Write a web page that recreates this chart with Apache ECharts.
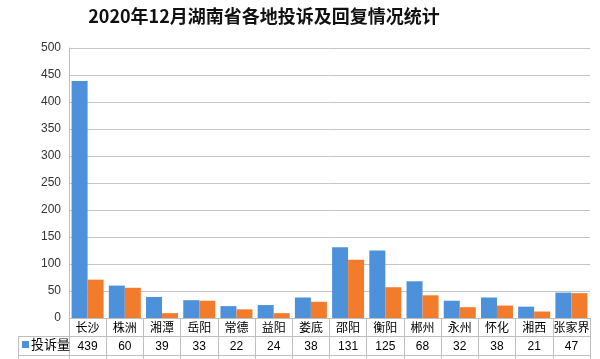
<!DOCTYPE html>
<html><head><meta charset="utf-8">
<script src="https://cdn.jsdelivr.net/npm/echarts@6/dist/echarts.min.js"></script>
<style>html,body{margin:0;padding:0;background:#fff}#c{width:600px;height:359px}</style>
</head><body><div id="c"></div>
<script>
var categories = ['长沙','株洲','湘潭','岳阳','常德','益阳','娄底','邵阳','衡阳','郴州','永州','怀化','湘西','张家界'];
var complaints = [439,60,39,33,22,24,38,131,125,68,32,38,21,47];
var replies = [71,56,9,32,16,9,30,108,57,42,20,23,12,46];
var yTicks = [0,50,100,150,200,250,300,350,400,450,500];

var chart = echarts.init(document.getElementById('c'));
var lineColor = '#bfbfbf';
var cjk = '"Noto Sans CJK SC", sans-serif';
chart.setOption({
  animation: false,
  title: {
    text: '2020年12月湖南省各地投诉及回复情况统计',
    left: 259, textAlign: 'center', top: 2,
    textStyle: {fontFamily: cjk, fontWeight: 'bold', fontSize: 18, color: '#111'}
  },
  legend: {
    orient: 'vertical', left: 22, top: 338, padding: 0, itemWidth: 7, itemHeight: 7, itemGap: 7,
    icon: 'rect',
    textStyle: {fontFamily: cjk, fontSize: 13, color: '#000', padding: [0,0,0,-3]},
    data: ['投诉量']
  },
  grid: {left: 69, right: 10, top: 48, bottom: 41, outerBoundsMode: 'none', containLabel: false},
  xAxis: [
    {type: 'category', data: categories, position: 'bottom',
     axisLine: {lineStyle: {color: lineColor}},
     axisTick: {show: true, interval: 0, length: 60, alignWithLabel: false, lineStyle: {color: lineColor}},
     axisLabel: {interval: 0, margin: 3, fontFamily: cjk, fontSize: 12, color: '#000'}},
    {type: 'category', data: categories, position: 'bottom', offset: 18,
     axisLine: {lineStyle: {color: lineColor}}, axisTick: {show: false},
     axisLabel: {interval: 0, margin: 5, fontFamily: 'Liberation Sans, Arial', fontSize: 12, color: '#000',
       formatter: function(v, i){ return String(complaints[i]); }}},
    {type: 'category', data: categories, position: 'bottom', offset: 37,
     axisLine: {lineStyle: {color: lineColor}}, axisTick: {show: false},
     axisLabel: {interval: 0, margin: 5, fontFamily: 'Liberation Sans, Arial', fontSize: 12, color: '#000',
       formatter: function(v, i){ return String(replies[i]); }}}
  ],
  yAxis: {
    type: 'value', min: yTicks[0], max: yTicks[yTicks.length-1], interval: 50,
    axisLine: {show: true, lineStyle: {color: lineColor}},
    axisTick: {show: false},
    axisLabel: {margin: 8, fontFamily: 'Liberation Sans, Arial', fontSize: 12, color: '#333'},
    splitLine: {lineStyle: {color: '#c4c4c4'}}
  },
  series: [
    {name: '投诉量', type: 'bar', data: complaints, barGap: '0%', barCategoryGap: '14%',
     itemStyle: {color: '#4d91db'}},
    {name: '回复量', type: 'bar', data: replies, barGap: '0%', barCategoryGap: '14%',
     itemStyle: {color: '#f27b2c'}}
  ],
  graphic: [
    {type: 'line', shape: {x1: 18, y1: 336.5, x2: 69, y2: 336.5}, style: {stroke: lineColor, lineWidth: 1}},
    {type: 'line', shape: {x1: 18, y1: 355.5, x2: 69, y2: 355.5}, style: {stroke: lineColor, lineWidth: 1}},
    {type: 'line', shape: {x1: 18.5, y1: 336, x2: 18.5, y2: 359}, style: {stroke: lineColor, lineWidth: 1}}
  ]
});
</script></body></html>
